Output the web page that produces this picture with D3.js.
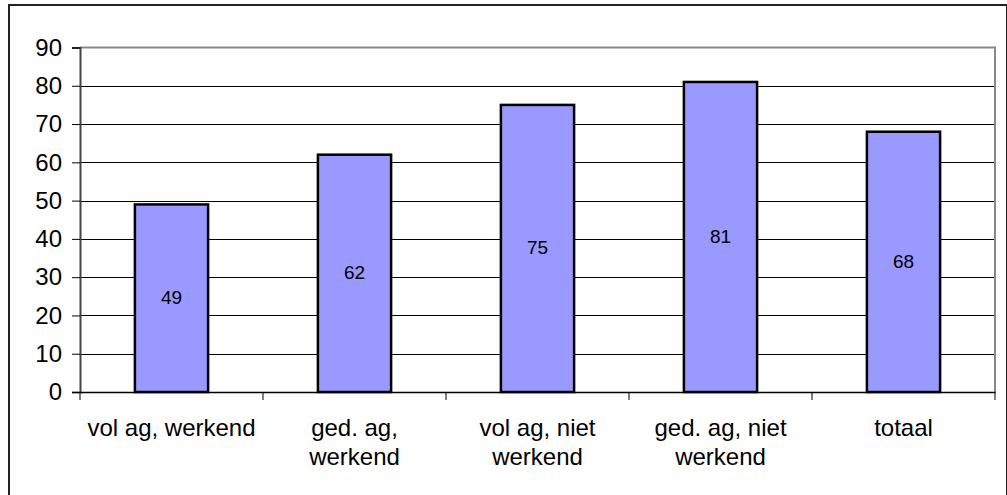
<!DOCTYPE html>
<html>
<head>
<meta charset="utf-8">
<script src="https://cdn.jsdelivr.net/npm/d3@7"></script>
<style>
  body { margin: 0; background: #fff; }
  text { font-family: "Liberation Sans", Arial, sans-serif; fill: #000; }
</style>
</head>
<body>
<script>
// data
const categories = ['vol ag, werkend', 'ged. ag, werkend', 'vol ag, niet werkend', 'ged. ag, niet werkend', 'totaal'];
const labelLines = [['vol ag, werkend'], ['ged. ag,', 'werkend'], ['vol ag, niet', 'werkend'], ['ged. ag, niet', 'werkend'], ['totaal']];
const values = [49, 62, 75, 81, 68];
const yTicks = [0, 10, 20, 30, 40, 50, 60, 70, 80, 90];

const main = () => {
  const width = 1007;
  const height = 495;
  const left = 80, right = 995, top = 47.5, bottom = 392;

  const svg = d3.select('body').append('svg')
    .attr('width', width).attr('height', height);

  // outer frame
  svg.append('rect')
    .attr('x', 9).attr('y', 5)
    .attr('width', 998).attr('height', 500)
    .attr('fill', '#fff')
    .attr('stroke', '#222').attr('stroke-width', 2);

  const x = d3.scaleBand().domain(categories).range([left, right]).paddingInner(0).paddingOuter(0);
  const y = d3.scaleLinear().domain([0, 90]).range([bottom, top]);

  // gridlines
  svg.append('g')
    .selectAll('line')
    .data(yTicks.filter(d => d > 0 && d < 90))
    .join('line')
    .attr('x1', left).attr('x2', right)
    .attr('y1', d => Math.round(y(d)) + 0.5).attr('y2', d => Math.round(y(d)) + 0.5)
    .attr('stroke', '#000').attr('stroke-width', 1);

  // plot border (top + right)
  svg.append('path')
    .attr('d', `M${left},${top}H${right}V${bottom}`)
    .attr('fill', 'none').attr('stroke', '#888').attr('stroke-width', 2);

  // bars
  const barW = x.bandwidth() * 0.4;
  svg.append('g')
    .selectAll('rect')
    .data(values)
    .join('rect')
    .attr('x', (d, i) => x(categories[i]) + (x.bandwidth() - barW) / 2)
    .attr('y', d => y(d))
    .attr('width', barW)
    .attr('height', d => y(0) - y(d))
    .attr('fill', '#9999ff')
    .attr('stroke', '#000').attr('stroke-width', 2.5);

  // bar value labels
  svg.append('g')
    .selectAll('text')
    .data(values)
    .join('text')
    .attr('x', (d, i) => x(categories[i]) + x.bandwidth() / 2)
    .attr('y', d => (y(d) + y(0)) / 2)
    .attr('dy', '0.3em')
    .attr('text-anchor', 'middle')
    .style('font-size', '19px')
    .text(d => d);

  // y axis
  const yAxis = svg.append('g')
    .attr('transform', `translate(${left},0)`)
    .call(d3.axisLeft(y).tickValues(yTicks).tickSize(8).tickPadding(10));
  yAxis.select('.domain').attr('stroke', '#444').attr('stroke-width', 2);
  yAxis.selectAll('.tick line').attr('stroke', '#000');
  yAxis.selectAll('.tick text')
    .style('font-size', '24px')
    .style('font-family', '"Liberation Sans", Arial, sans-serif')
    .attr('fill', '#000');

  // x axis
  const xAxis = svg.append('g')
    .attr('transform', `translate(0,${bottom})`)
    .call(d3.axisBottom(x).tickSize(0).tickFormat(''));
  xAxis.select('.domain').attr('stroke', '#000').attr('stroke-width', 1.5);
  xAxis.selectAll('.tick').remove();

  // category boundary ticks
  const edges = categories.map(c => x(c)).concat([right]);
  xAxis.append('g')
    .selectAll('line')
    .data(edges)
    .join('line')
    .attr('x1', d => d).attr('x2', d => d)
    .attr('y1', 0).attr('y2', 8)
    .attr('stroke', '#000');

  // category labels
  const lab = svg.append('g')
    .selectAll('text')
    .data(labelLines)
    .join('text')
    .attr('text-anchor', 'middle')
    .style('font-size', '24px');
  lab.selectAll('tspan')
    .data((d, i) => d.map(t => ({ t, i })))
    .join('tspan')
    .attr('x', d => x(categories[d.i]) + x.bandwidth() / 2)
    .attr('y', (d, j) => 436 + j * 29)
    .text(d => d.t);
};

main();
</script>
</body>
</html>
